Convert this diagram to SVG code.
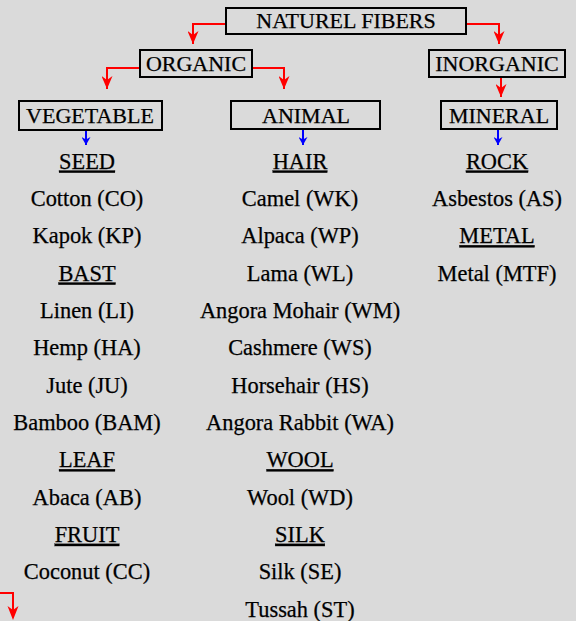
<svg xmlns="http://www.w3.org/2000/svg" width="576" height="621" viewBox="0 0 576 621">
<style>
.box{fill:none;stroke:#000;stroke-width:2}
.bt{font-family:"Liberation Serif","Times New Roman",serif;font-size:22px;fill:#000;stroke:#000;stroke-width:0.25;text-anchor:middle}
.t{font-family:"Liberation Serif","Times New Roman",serif;font-size:22.4px;fill:#000;stroke:#000;stroke-width:0.25;text-anchor:middle}
.u{text-decoration:underline}
.red{fill:none;stroke:#f00;stroke-width:2}
.blue{fill:none;stroke:#00f;stroke-width:2}
.redhead{fill:#f00}
</style>
<defs>
<marker id="ar" markerUnits="userSpaceOnUse" markerWidth="13" markerHeight="11" refX="13" refY="5.5" orient="auto">
<path d="M0,0 L13,5.5 L0,11 L4,5.5 z" fill="#f00"/>
</marker>
<marker id="ab" markerUnits="userSpaceOnUse" markerWidth="8" markerHeight="9" refX="8" refY="4.5" orient="auto">
<path d="M0,0 L8,4.5 L0,9 L2.5,4.5 z" fill="#00f"/>
</marker>
</defs>
<rect width="576" height="621" fill="#dadada"/>
<g id="connectors">
<path class="red" d="M226,24 H193 V44" marker-end="url(#ar)"/>
<path class="red" d="M466,24 H499 V44" marker-end="url(#ar)"/>
<path class="red" d="M140,68 H107 V89" marker-end="url(#ar)"/>
<path class="red" d="M252,68 H284 V89" marker-end="url(#ar)"/>
<path class="red" d="M501,77 V97" marker-end="url(#ar)"/>
<path class="red" d="M0,593 H13 V612"/>
<path class="redhead" d="M7.5,606 L13,620 L18.5,606 L13,610 z"/>
<path class="blue" d="M86,130 V145" marker-end="url(#ab)"/>
<path class="blue" d="M303,129 V145" marker-end="url(#ab)"/>
<path class="blue" d="M498,129 V145" marker-end="url(#ab)"/>
</g>
<g id="natural-fibers"><rect class="box" x="226" y="8" width="240" height="26"/><text class="bt" x="346" y="28">NATUREL FIBERS</text></g>
<g id="organic"><rect class="box" x="140" y="50" width="112" height="27"/><text class="bt" x="196" y="70.5">ORGANIC</text></g>
<g id="inorganic"><rect class="box" x="429" y="50" width="136" height="27"/><text class="bt" x="497" y="70.5">INORGANIC</text></g>
<g id="vegetable"><rect class="box" x="19" y="101" width="143" height="29"/><text class="bt" x="90" y="123">VEGETABLE</text></g>
<g id="animal"><rect class="box" x="231" y="101" width="149" height="28"/><text class="bt" x="306" y="123">ANIMAL</text></g>
<g id="mineral"><rect class="box" x="441" y="101" width="116" height="28"/><text class="bt" x="499" y="123">MINERAL</text></g>
<g id="vegetable-list">
<text class="t u" x="87" y="168.5">SEED</text>
<text class="t" x="87" y="205.8">Cotton (CO)</text>
<text class="t" x="87" y="243.2">Kapok (KP)</text>
<text class="t u" x="87" y="280.5">BAST</text>
<text class="t" x="87" y="317.8">Linen (LI)</text>
<text class="t" x="87" y="355.2">Hemp (HA)</text>
<text class="t" x="87" y="392.5">Jute (JU)</text>
<text class="t" x="87" y="429.8">Bamboo (BAM)</text>
<text class="t u" x="87" y="467.2">LEAF</text>
<text class="t" x="87" y="504.5">Abaca (AB)</text>
<text class="t u" x="87" y="541.8">FRUIT</text>
<text class="t" x="87" y="579.2">Coconut (CC)</text>
</g>
<g id="animal-list">
<text class="t u" x="300" y="168.5">HAIR</text>
<text class="t" x="300" y="205.8">Camel (WK)</text>
<text class="t" x="300" y="243.2">Alpaca (WP)</text>
<text class="t" x="300" y="280.5">Lama (WL)</text>
<text class="t" x="300" y="317.8">Angora Mohair (WM)</text>
<text class="t" x="300" y="355.2">Cashmere (WS)</text>
<text class="t" x="300" y="392.5">Horsehair (HS)</text>
<text class="t" x="300" y="429.8">Angora Rabbit (WA)</text>
<text class="t u" x="300" y="467.2">WOOL</text>
<text class="t" x="300" y="504.5">Wool (WD)</text>
<text class="t u" x="300" y="541.8">SILK</text>
<text class="t" x="300" y="579.2">Silk (SE)</text>
<text class="t" x="300" y="616.5">Tussah (ST)</text>
</g>
<g id="mineral-list">
<text class="t u" x="497" y="168.5">ROCK</text>
<text class="t" x="497" y="205.8">Asbestos (AS)</text>
<text class="t u" x="497" y="243.2">METAL</text>
<text class="t" x="497" y="280.5">Metal (MTF)</text>
</g>
</svg>
